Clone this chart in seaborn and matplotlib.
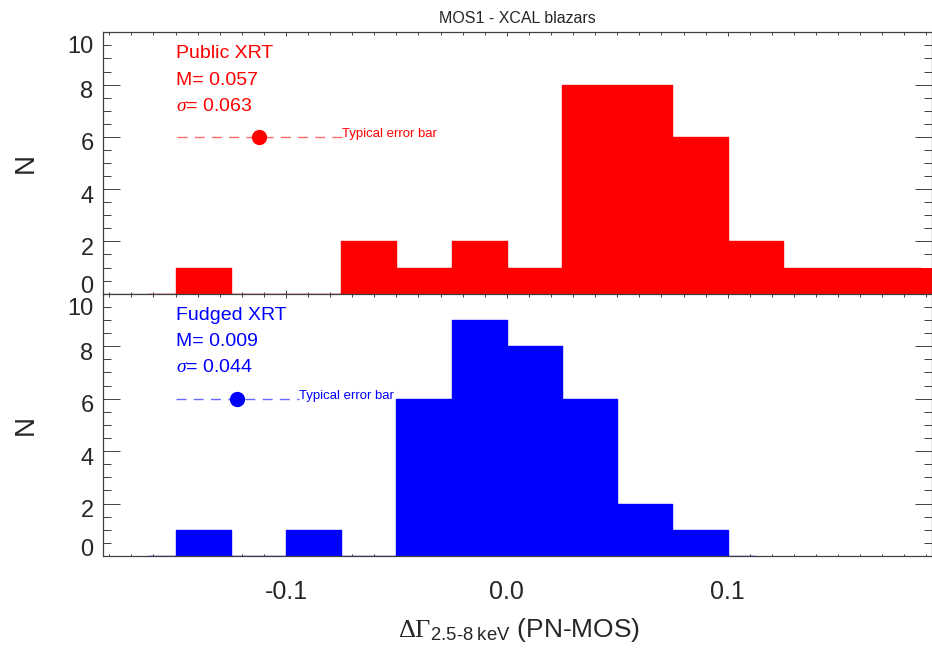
import numpy as np
import pandas as pd
import matplotlib
matplotlib.use("Agg")
import matplotlib.pyplot as plt
from matplotlib.ticker import MultipleLocator
from matplotlib.transforms import ScaledTranslation
import seaborn as sns

# Histogram bin edges (width 0.025) and counts for the two XRT calibrations
public_edges = [-0.175, -0.15, -0.125, -0.1, -0.075, -0.05, -0.025, 0.0,
                0.025, 0.05, 0.075, 0.1, 0.125, 0.15, 0.175, 0.2]
public_counts = [0, 1, 0, 0, 2, 1, 2, 1, 8, 8, 6, 2, 1, 1, 1]

fudged_edges = [-0.175, -0.15, -0.125, -0.1, -0.075, -0.05, -0.025, 0.0,
                0.025, 0.05, 0.075, 0.1, 0.125]
fudged_counts = [0, 1, 0, 1, 0, 6, 9, 8, 6, 2, 1, 0]

# Summary statistics shown in each panel
public_stats = ["Public XRT", "M= 0.057", r"$\sigma$= 0.063"]
fudged_stats = ["Fudged XRT", "M= 0.009", r"$\sigma$= 0.044"]

# Typical error bar: centre and half-width
public_err = (-0.112, 0.0375)
fudged_err = (-0.122, 0.028)
err_level = 6

y_ticks = [0, 2, 4, 6, 8, 10]
x_ticks = [-0.1, 0.0, 0.1]
x_tick_labels = ["-0.1", "0.0", "0.1"]

sns.set_style("ticks")
plt.rcParams["font.family"] = ["Liberation Sans", "DejaVu Sans"]
plt.rcParams["mathtext.fontset"] = "custom"
plt.rcParams["mathtext.rm"] = "Liberation Serif"
plt.rcParams["mathtext.it"] = "Liberation Serif:italic"
plt.rcParams["mathtext.sf"] = "Liberation Sans"

W, H = 932, 651
fig = plt.figure(figsize=(W / 100, H / 100), dpi=100)

left_px, right_px = 103.3, 932.0
top_px, mid_px, bot_px = 32.3, 293.7, 556.0


def axes_rect(t, b):
    return [left_px / W, 1 - b / H, (right_px - left_px) / W, (b - t) / H]


ax_top = fig.add_axes(axes_rect(top_px, mid_px))
ax_bot = fig.add_axes(axes_rect(mid_px, bot_px), sharex=ax_top)

frame_col = "#404040"
panels = [
    (ax_top, public_edges, public_counts, public_stats, public_err, "#ff0000", "#ff6a6a"),
    (ax_bot, fudged_edges, fudged_counts, fudged_stats, fudged_err, "#0000ff", "#6a6aff"),
]

for ax, edges, counts, stats, err, col, light in panels:
    edge_arr = np.asarray(edges, dtype=float)
    centers = edge_arr[:-1] + np.diff(edge_arr) / 2
    df = pd.DataFrame({"dg": centers, "n": np.asarray(counts, dtype=float)})

    # filled histogram
    sns.histplot(data=df, x="dg", weights="n", bins=list(edges), color=col,
                 alpha=1, linewidth=0, element="bars", fill=True, ax=ax,
                 zorder=2)
    # outline drawn from the bin centres
    sns.lineplot(data=df, x="dg", y="n", drawstyle="steps-mid", color=col,
                 linewidth=1.0, ax=ax, zorder=3)

    # typical error bar
    eb = ax.errorbar([err[0]], [err_level], xerr=[err[1]], fmt="o", ms=10,
                     color=col, ecolor=light, elinewidth=1.0, capsize=0, zorder=4)
    eb[2][0].set_linestyle((0, (7.2, 5.2)))
    ax.text(err[0] + err[1], err_level, "Typical error bar", color=col,
            fontsize=9.5, ha="left", va="baseline")

    for txt, yv in zip(stats, [9, 8, 7]):
        ax.text(-0.15, yv, txt, color=col, fontsize=14, ha="left", va="baseline")

    ax.set_xlim(-0.1827, 0.1925)
    ax.set_ylim(0, 10)
    ax.set_yticks(y_ticks)
    ax.yaxis.set_minor_locator(MultipleLocator(0.5))
    ax.set_xticks(x_ticks)
    ax.xaxis.set_minor_locator(MultipleLocator(0.01))

    for sp in ax.spines.values():
        sp.set_color(frame_col)
        sp.set_linewidth(0.9)
        sp.set_zorder(2.5)

    ax.tick_params(axis="both", which="both", direction="in", top=True,
                   right=True, color=frame_col, width=0.7)
    ax.tick_params(axis="y", which="major", length=12, labelsize=17, pad=7)
    ax.tick_params(axis="y", which="minor", length=6)
    ax.tick_params(axis="x", which="major", length=3.2, labelsize=18, pad=17)
    ax.tick_params(axis="x", which="minor", length=1.8)

    ax.set_ylabel("N", fontsize=20)
    ax.yaxis.label.set_va("center")
    ax.yaxis.set_label_coords((26 - left_px) / (right_px - left_px), 0.5)

    # keep end labels inside the panel
    for tick, val in zip(ax.yaxis.get_major_ticks(), y_ticks):
        dy = 8.9 if val == 10 else (-6.3 if val == 0 else 3.6)
        lab = tick.label1
        lab.set_transform(lab.get_transform() +
                          ScaledTranslation(0, -dy / 72, fig.dpi_scale_trans))

ax_top.tick_params(axis="x", labelbottom=False)
ax_top.set_xlabel("")
ax_bot.set_xticklabels(x_tick_labels)
ax_top.set_title("MOS1 - XCAL blazars", fontsize=11.5, pad=6.5)

ax_bot.set_xlabel(r"$\Delta\Gamma_{\mathsf{2.5\text{-}8\ keV}}$ (PN-MOS)", fontsize=19)
ax_bot.xaxis.label.set_va("baseline")
ax_bot.xaxis.set_label_coords((519.5 - left_px) / (right_px - left_px),
                              (bot_px - 637) / (bot_px - mid_px))

fig.savefig("out.png", dpi=100)
